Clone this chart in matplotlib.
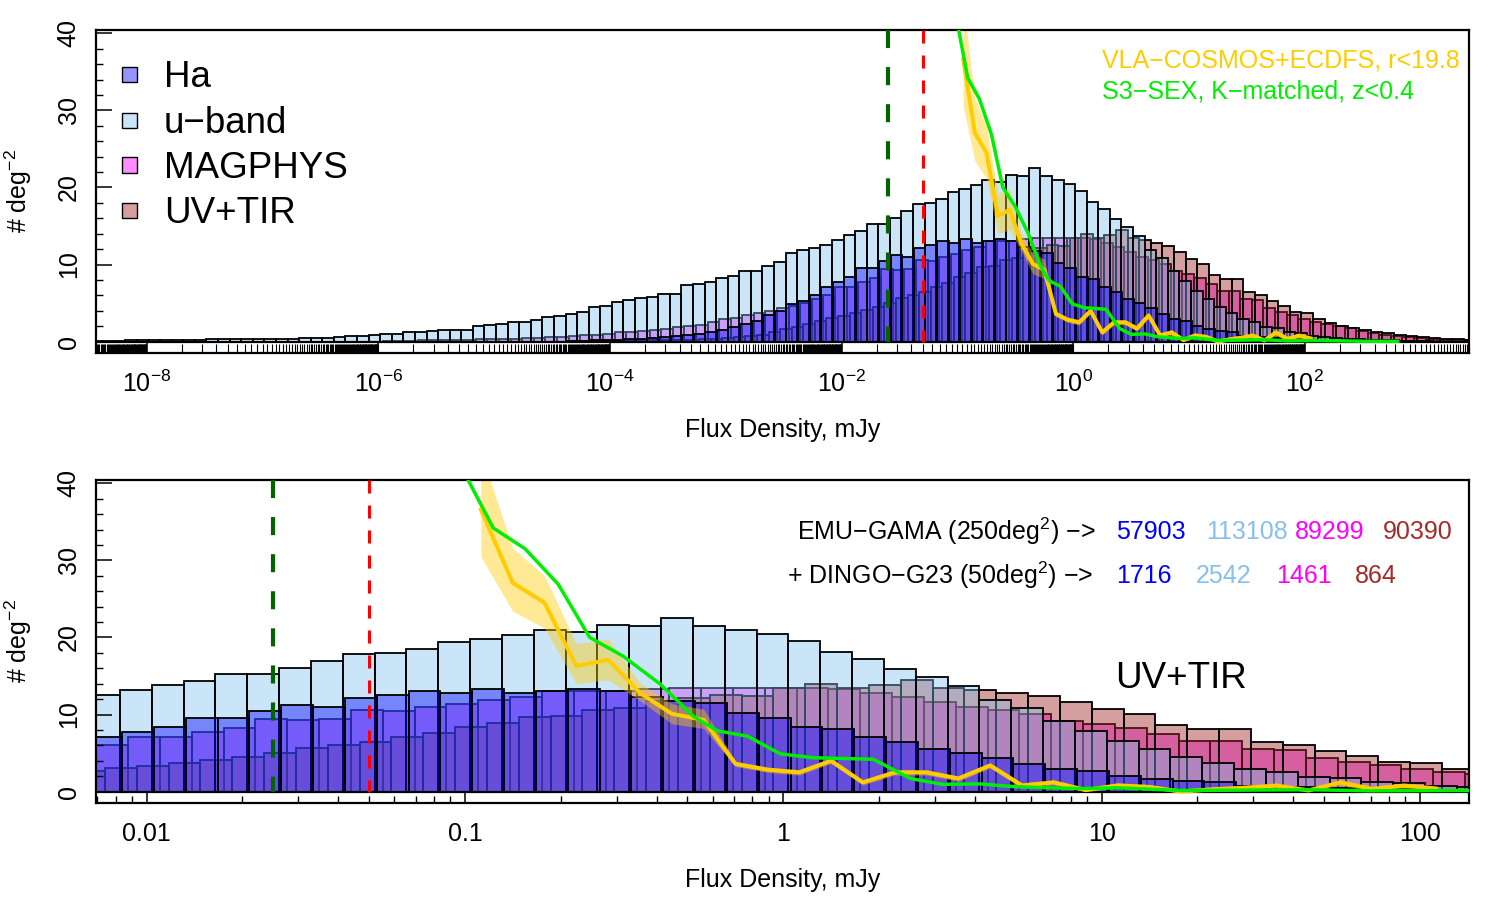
import numpy as np
import matplotlib
matplotlib.use("Agg")
import matplotlib.pyplot as plt
from matplotlib.colors import to_rgba
from matplotlib.patches import Rectangle
from matplotlib.ticker import NullFormatter

plt.rcParams['font.family'] = ['Liberation Sans', 'DejaVu Sans']
plt.rcParams['mathtext.fontset'] = 'custom'
plt.rcParams['mathtext.rm'] = 'Liberation Sans'
plt.rcParams['mathtext.it'] = 'Liberation Sans:italic'
plt.rcParams['mathtext.bf'] = 'Liberation Sans:bold'
plt.rcParams['lines.scale_dashes'] = False

# histograms: counts per 0.1 dex bin, *_lo = log10(left edge of first bin / mJy)
BIN = 0.1
uband_lo = -8.584
uband = [0.1, 0.1, 0.1, 0.12, 0.15, 0.15, 0.2, 0.2, 0.2, 0.25,
         0.25, 0.3, 0.3, 0.3, 0.35, 0.35, 0.35, 0.4, 0.4, 0.43,
         0.45, 0.5, 0.65, 0.78, 0.7, 0.9, 1.0, 1.0, 1.2, 1.3,
         1.4, 1.5, 1.55, 1.55, 2.07, 2.15, 2.3, 2.5, 2.5, 2.8,
         3.2, 3.36, 3.6, 3.9, 4.45, 4.58, 5.1, 5.4, 5.65, 5.8,
         6.2, 6.2, 7.3, 7.45, 7.7, 8.25, 8.55, 9.2, 9.2, 9.85,
         10.3, 11.45, 11.9, 12.1, 12.56, 13.2, 13.85, 14.4, 15.2, 15.3,
         16.05, 16.95, 17.85, 18.0, 18.55, 19.45, 19.8, 20.35, 20.95, 20.7,
         21.65, 21.5, 22.55, 21.45, 21.0, 20.4, 19.5, 18.15, 17.25, 15.9,
         14.9, 13.7, 11.95, 10.9, 9.2, 7.9, 6.6, 5.5, 4.5, 3.7,
         3.0, 2.6, 1.94, 1.77, 1.2, 1.07, 0.78, 0.6, 0.45, 0.35,
         0.3, 0.25, 0.2, 0.15, 0.1, 0.08, 0.05]

ha_lo = -4.377
ha = [0.05, 0.1, 0.15, 0.2, 0.25, 0.3, 0.4, 0.5, 0.6, 0.7,
      0.8, 1.0, 1.2, 1.45, 1.85, 2.3, 2.7, 3.4, 4.0, 4.9,
      5.3, 6.1, 7.03, 7.8, 8.4, 9.5, 9.5, 10.45, 11.25, 11.0,
      12.1, 12.6, 13.05, 12.75, 13.3, 12.75, 13.1, 13.3, 13.07, 12.3,
      11.8, 11.45, 10.25, 9.5, 8.4, 8.1, 7.1, 6.45, 5.5, 5.05,
      4.35, 3.6, 3.0, 2.65, 2.07, 1.64, 1.33, 1.2, 0.78, 0.65,
      0.56, 0.45, 0.35, 0.3, 0.2, 0.15, 0.1, 0.05]

magphys_lo = -5.958
magphys = [0.05, 0.1, 0.1, 0.15, 0.15, 0.2, 0.2, 0.25, 0.3, 0.3,
           0.35, 0.4, 0.45, 0.5, 0.55, 0.6, 0.7, 0.8, 0.9, 1.0,
           1.2, 1.3, 1.4, 1.5, 1.7, 1.9, 2.07, 2.2, 2.5, 2.9,
           3.1, 3.4, 3.7, 4.0, 4.3, 4.6, 5.0, 5.5, 6.08, 7.03,
           7.1, 7.7, 8.25, 9.4, 9.3, 9.45, 10.55, 10.4, 11.0, 11.4,
           11.85, 12.3, 13.07, 13.07, 13.1, 13.3, 13.4, 13.5, 13.5, 13.4,
           13.4, 13.3, 12.8, 12.3, 11.6, 11.0, 10.55, 10.05, 9.2, 8.8,
           8.25, 7.47, 6.6, 6.6, 5.5, 5.4, 4.36, 3.8, 3.5, 2.94,
           2.6, 2.3, 2.07, 1.77, 1.42, 1.12, 0.86, 0.69, 0.56, 0.43,
           0.35, 0.26, 0.22, 0.17, 0.1]

uvtir_lo = -4.331
uvtir = [0.05, 0.05, 0.08, 0.1, 0.1, 0.12, 0.15, 0.15, 0.2, 0.2,
         0.25, 0.3, 0.35, 0.45, 0.55, 0.7, 0.9, 1.3, 1.6, 1.9,
         2.3, 2.7, 3.02, 3.28, 3.67, 4.1, 4.53, 4.96, 5.65, 6.04,
         6.47, 7.1, 7.55, 8.4, 8.85, 9.7, 9.85, 10.55, 10.9, 11.8,
         12.2, 12.6, 12.4, 13.5, 14.0, 13.5, 13.85, 14.45, 13.4, 13.25,
         12.85, 12.35, 11.6, 10.7, 10.05, 8.67, 8.1, 8.1, 6.5, 6.1,
         5.3, 4.66, 3.9, 3.67, 2.94, 2.4, 2.07, 1.77, 1.5, 1.3,
         1.07, 0.9, 0.69, 0.56, 0.47, 0.4, 0.3, 0.26, 0.2]

# VLA-COSMOS+ECDFS curve with its uncertainty band (log10 flux, counts)
vla_logx = [-0.95, -0.85, -0.75, -0.65, -0.55, -0.45, -0.35, -0.25, -0.15, -0.05,
            0.05, 0.15, 0.25, 0.35, 0.45, 0.55, 0.65, 0.75, 0.85, 0.95,
            1.05, 1.15, 1.25, 1.35, 1.45, 1.55, 1.65, 1.75, 1.85, 1.95, 2.05]
vla_y = [36.6, 27.1, 24.5, 16.3, 17.1, 12.8, 10.1, 9.3, 3.6, 2.85,
         2.5, 4.0, 1.2, 2.5, 2.5, 1.7, 3.4, 0.8, 1.2, 0.2,
         0.8, 0.6, 0.0, 0.3, 0.5, 0.78, 0.15, 1.2, 0.35, 0.78, 0.4]
vla_lo = [30.5, 23.4, 21.2, 14.0, 14.5, 11.8, 8.8, 8.2, 3.25, 2.5,
          2.15, 3.65, 0.85, 2.15, 2.15, 1.35, 3.05, 0.45, 0.85, 0.0,
          0.45, 0.25, 0.0, 0.0, 0.15, 0.43, 0.0, 0.85, 0.0, 0.43, 0.05]
vla_hi = [44.0, 31.6, 28.0, 19.2, 19.8, 14.1, 11.4, 10.7, 3.95, 3.2,
          2.85, 4.35, 1.55, 2.85, 2.85, 2.05, 3.75, 1.15, 1.55, 0.55,
          1.15, 0.95, 0.35, 0.65, 0.85, 1.13, 0.5, 1.55, 0.7, 1.13, 0.75]

# S3-SEX K-matched z<0.4 curve
s3_logx = [-1.01, -0.911, -0.811, -0.707, -0.608, -0.504, -0.388, -0.283, -0.208, -0.113,
           -0.009, 0.095, 0.283, 0.40, 0.50, 0.62, 0.724, 0.83, 0.934, 1.05,
           1.25, 1.45, 1.65, 1.85, 2.1, 2.3, 2.5, 2.8]
s3_y = [42.0, 34.2, 31.5, 26.9, 20.0, 17.6, 14.0, 9.8, 7.9, 7.2,
        4.9, 4.4, 4.2, 1.7, 0.95, 1.0, 0.65, 0.5, 0.4, 0.5,
        0.15, 0.2, 0.25, 0.1, 0.15, 0.1, 0.05, 0.05]

limits = [0.025, 0.05]   # mJy, dashed lines
labels = ['Ha', 'u\u2212band', 'MAGPHYS', 'UV+TIR']
counts_gama = ['57903', '113108', '89299', '90390']
counts_dingo = ['1716', '2542', '1461', '864']
text_cols = ['#0000ff', '#87c0ee', '#ff00ff', '#a52a2a']

c_ha = to_rgba('#0000ff', 0.42)
c_u = to_rgba('#7ec0ee', 0.40)
c_mag = to_rgba('#ff00ff', 0.45)
c_uv = to_rgba('#a52a2a', 0.45)
YLIM = (-1.47, 40.43)


def draw_hist(ax, lo, counts, fc):
    counts = np.asarray(counts, dtype=float)
    left = lo + BIN * np.arange(len(counts))
    x0 = 10 ** left
    x1 = 10 ** (left + BIN)
    ax.bar(x0, counts, width=x1 - x0, align='edge', color=fc,
           edgecolor='black', linewidth=1.3)


def draw_panel(ax):
    draw_hist(ax, magphys_lo, magphys, c_mag)
    draw_hist(ax, uvtir_lo, uvtir, c_uv)
    draw_hist(ax, uband_lo, uband, c_u)
    draw_hist(ax, ha_lo, ha, c_ha)
    ax.axhline(0, color='black', lw=1.6, zorder=1.5)
    vx = 10 ** np.array(vla_logx)
    ax.fill_between(vx, vla_lo, vla_hi, color='#ffcc00', alpha=0.42, lw=0, zorder=2)
    ax.plot(vx, vla_y, color='#ffcc00', lw=2.9, zorder=3)
    ax.plot(10 ** np.array(s3_logx), s3_y, color='#00ee00', lw=2.5, zorder=3.2)
    ax.plot([limits[0]] * 2, [YLIM[1], 0], color='#006400', lw=3.0,
            dashes=(13, 13.7), zorder=4)
    ax.plot([limits[1]] * 2, [YLIM[1], 0], color='#ff0000', lw=2.2,
            dashes=(9.4, 8.6), zorder=4)
    ax.set_yticks([0, 10, 20, 30, 40])
    ax.set_yticklabels(['0', '10', '20', '30', '40'], rotation=90, va='center')
    ax.set_yticks(np.arange(0, 41, 2), minor=True)
    ax.set_ylim(*YLIM)
    ax.tick_params(axis='y', which='major', direction='in', length=11.5, width=1.1,
                   pad=11, labelsize=18)
    ax.tick_params(axis='y', which='minor', direction='in', length=5, width=1.0)
    ax.set_ylabel('# deg$^{-2}$', fontsize=18)
    ax.yaxis.set_label_coords(-0.0568, 0.5)
    ax.yaxis.label.set_va('center')
    ax.set_xlabel('Flux Density, mJy', fontsize=18)
    ax.xaxis.set_label_coords(0.5, -0.2384)
    ax.xaxis.label.set_va('center')
    for s in ax.spines.values():
        s.set_linewidth(1.6)
    ax.tick_params(top=False, right=False)


fig = plt.figure(figsize=(15, 9), dpi=100)
ax1 = fig.add_axes([0.064, 0.6078, 0.9155, 0.3589])
ax2 = fig.add_axes([0.064, 0.1078, 0.9155, 0.3589])

for ax in (ax1, ax2):
    ax.set_xscale('log')
    draw_panel(ax)

# top panel: full range
ax1.set_xticks([1e-8, 1e-6, 1e-4, 1e-2, 1, 1e2])
ax1.set_xticklabels(['$10^{-8}$', '$10^{-6}$', '$10^{-4}$', '$10^{-2}$', '$10^{0}$', '$10^{2}$'])
minor1 = [k * 10.0 ** n for n in range(-10, 3, 2) for k in range(2, 100)]
ax1.set_xticks(minor1, minor=True)
ax1.xaxis.set_minor_formatter(NullFormatter())
ax1.set_xlim(10 ** -8.4377, 10 ** 3.4185)
ax1.tick_params(axis='x', which='major', direction='in', length=8, width=1.1, pad=13, labelsize=18)
ax1.tick_params(axis='x', which='minor', direction='in', length=6.5, width=0.8)

handles_fc = [c_ha, c_u, c_mag, c_uv]
for i, (lab, fc) in enumerate(zip(labels, handles_fc)):
    yc = [0.8616, 0.7198, 0.5811, 0.4412][i]
    ax1.add_patch(Rectangle((0.0187, yc - 0.0241), 0.01136, 0.0483, transform=ax1.transAxes,
                            facecolor=fc, edgecolor='black', lw=1.0, zorder=6))
    ax1.text(0.0495, yc - 0.009, lab, transform=ax1.transAxes, fontsize=26.5,
             va='center', ha='left')

ax1.text(0.7325, 0.905, 'VLA\u2212COSMOS+ECDFS, r<19.8', transform=ax1.transAxes,
         color='#ffcc00', fontsize=18, va='center', ha='left')
ax1.text(0.7325, 0.809, 'S3\u2212SEX, K\u2212matched, z<0.4', transform=ax1.transAxes,
         color='#00ee00', fontsize=18, va='center', ha='left')

# bottom panel: zoom
ax2.set_xticks([0.01, 0.1, 1, 10, 100])
ax2.set_xticklabels(['0.01', '0.1', '1', '10', '100'])
minor2 = [k * 10.0 ** n for n in range(-3, 3) for k in range(2, 10)]
ax2.set_xticks(minor2, minor=True)
ax2.xaxis.set_minor_formatter(NullFormatter())
ax2.set_xlim(10 ** -2.159, 10 ** 2.155)
ax2.tick_params(axis='x', which='major', direction='in', length=8, width=1.1, pad=14, labelsize=18)
ax2.tick_params(axis='x', which='minor', direction='in', length=5, width=1.0)

ax2.text(0.7274, 0.840, 'EMU\u2212GAMA (250deg$^{2}$) \u2212>', transform=ax2.transAxes,
         fontsize=18, va='center', ha='right')
ax2.text(0.7260, 0.704, '+ DINGO\u2212G23 (50deg$^{2}$) \u2212>', transform=ax2.transAxes,
         fontsize=18, va='center', ha='right')
for xs, txt, col in zip([0.7427, 0.8083, 0.8731, 0.9372], counts_gama, text_cols):
    ax2.text(xs, 0.840, txt, transform=ax2.transAxes, color=col, fontsize=18, va='center')
for xs, txt, col in zip([0.7427, 0.8010, 0.8592, 0.9168], counts_dingo, text_cols):
    ax2.text(xs, 0.704, txt, transform=ax2.transAxes, color=col, fontsize=18, va='center')
ax2.text(0.742, 0.384, 'UV+TIR', transform=ax2.transAxes, fontsize=26.5, va='center', ha='left')

fig.savefig('out.png', dpi=100)
